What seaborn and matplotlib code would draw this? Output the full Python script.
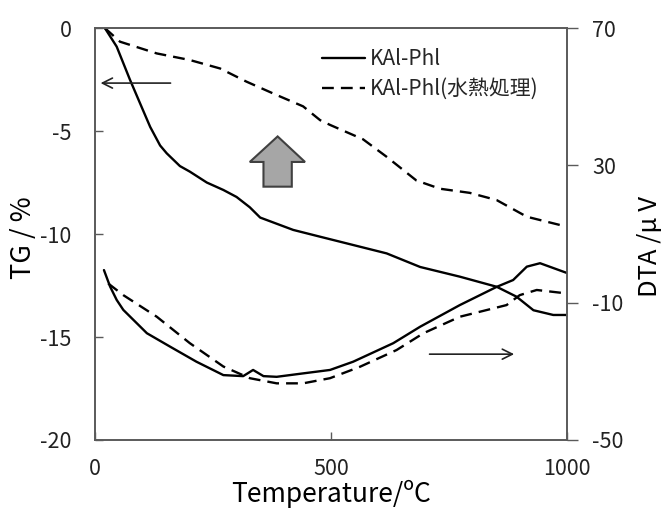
import matplotlib
matplotlib.use('Agg')
import matplotlib.pyplot as plt
import seaborn as sns
import pandas as pd
from matplotlib.patches import Polygon

sns.set_theme(style='white')
plt.rcParams['font.family'] = ['Noto Sans CJK JP', 'DejaVu Sans']
plt.rcParams['axes.unicode_minus'] = False

labels = ['KAl-Phl', 'KAl-Phl(水熱処理)']

# TG curves (left axis, %)
T_tg_raw = [21, 46, 74, 102, 117, 138, 152, 180, 201, 237, 272, 300, 328, 350, 420, 477, 618, 689, 773,
            851, 893, 929, 971, 999]
TG_raw = [0, -0.9, -2.5, -4.0, -4.8, -5.7, -6.08, -6.7, -6.97, -7.5, -7.86, -8.2, -8.7, -9.2, -9.8,
          -10.13, -10.94, -11.6, -12.07, -12.56, -13.04, -13.7, -13.93, -13.93]
T_tg_ht = [21, 53, 131, 201, 265, 321, 385, 441, 477, 498, 568, 618, 681, 731, 794, 851, 915, 985]
TG_ht = [0, -0.66, -1.23, -1.55, -1.96, -2.6, -3.25, -3.8, -4.47, -4.7, -5.4, -6.25, -7.4, -7.8, -8.0,
         -8.35, -9.16, -9.56]

# DTA curves (right axis, μV)
T_dta_raw = [19, 32, 46, 60, 110, 159, 215, 272, 314, 335, 357, 385, 441, 498, 547, 632, 689, 773, 851,
             886, 915, 943, 999]
DTA_raw = [-0.5, -5.3, -9.2, -12.1, -18.9, -22.8, -27.2, -31.1, -31.4, -29.6, -31.4, -31.6, -30.6, -29.6,
           -27.2, -21.8, -17.0, -10.7, -5.4, -3.4, 0.5, 1.5, -1.3]
T_dta_ht = [28, 60, 131, 201, 272, 328, 385, 441, 498, 561, 639, 696, 773, 872, 900, 936, 999]
DTA_ht = [-4.4, -7.8, -14.1, -21.8, -28.6, -32.0, -33.5, -33.5, -32.0, -28.7, -23.8, -18.9, -14.1, -10.7,
          -7.8, -6.3, -7.3]

x_ticks = [0, 500, 1000]
tg_ticks = [-20, -15, -10, -5, 0]
dta_ticks = [-50, -10, 30, 70]

tg = pd.concat([
    pd.DataFrame({'T': T_tg_raw, 'v': TG_raw, 's': labels[0]}),
    pd.DataFrame({'T': T_tg_ht, 'v': TG_ht, 's': labels[1]}),
], ignore_index=True)
dta = pd.concat([
    pd.DataFrame({'T': T_dta_raw, 'v': DTA_raw, 's': labels[0]}),
    pd.DataFrame({'T': T_dta_ht, 'v': DTA_ht, 's': labels[1]}),
], ignore_index=True)

dash_map = {labels[0]: '', labels[1]: (5, 3)}
ink = '#222222'
spine_c = '#5a5a5a'

fig = plt.figure(figsize=(6.67, 5.11), dpi=100)
ax = fig.add_axes([0.1424, 0.139, 0.7076, 0.806])
sns.lineplot(data=tg, x='T', y='v', style='s', dashes=dash_map, color='black', lw=1.7,
             estimator=None, sort=False, ax=ax)
ax2 = ax.twinx()
sns.lineplot(data=dta, x='T', y='v', style='s', dashes=dash_map, color='black', lw=1.7,
             estimator=None, sort=False, ax=ax2, legend=False)

ax.set_xlim(0, 1000)
ax.set_ylim(-20, 0)
ax2.set_ylim(-50, 70)
ax.set_xticks(x_ticks)
ax.set_yticks(tg_ticks)
ax2.set_yticks(dta_ticks)

ax.tick_params(axis='y', direction='in', length=6, width=1, color=spine_c, pad=17, labelsize=15.5,
               labelcolor=ink, left=True)
ax.tick_params(axis='x', direction='in', length=6, width=1, color=spine_c, pad=13, labelsize=15.5,
               labelcolor=ink, bottom=True)
ax2.tick_params(axis='y', direction='out', length=8, width=1, color=spine_c, pad=10, labelsize=15.5,
                labelcolor=ink, right=True)
for a in (ax, ax2):
    for sp in a.spines.values():
        sp.set_color(spine_c)
        sp.set_linewidth(1.2)

ax.set_xlabel('Temperature/ºC', fontsize=19, color='black', labelpad=0)
ax.set_ylabel('TG / %', fontsize=19.5, color='black')
ax.yaxis.set_label_coords(-0.123, 0.49)
ax2.set_ylabel('DTA /μ V', fontsize=18.5, color='black')
ax2.yaxis.set_label_coords(1.148, 0.47)

sns.move_legend(ax, 'upper left', bbox_to_anchor=(0.48, 0.952), title=None, frameon=False,
                fontsize=15, handlelength=2.1, handletextpad=0.2, labelspacing=0.4,
                borderpad=0, borderaxespad=0)

ax.annotate('', xy=(6, -2.67), xytext=(166, -2.67),
            arrowprops=dict(arrowstyle='->', color=ink, lw=1.2, mutation_scale=18))
ax2.annotate('', xy=(894, -25), xytext=(703, -25),
             arrowprops=dict(arrowstyle='->', color=ink, lw=1.2, mutation_scale=18))

arrow_pts = [(0.357, 0.615), (0.417, 0.615), (0.417, 0.675), (0.445, 0.675), (0.387, 0.737),
             (0.328, 0.675), (0.357, 0.675)]
ax.add_patch(Polygon(arrow_pts, closed=True, transform=ax.transAxes, facecolor='#a6a6a6',
                     edgecolor='#404040', lw=1.5, zorder=3))

fig.savefig('out.png', dpi=100)
